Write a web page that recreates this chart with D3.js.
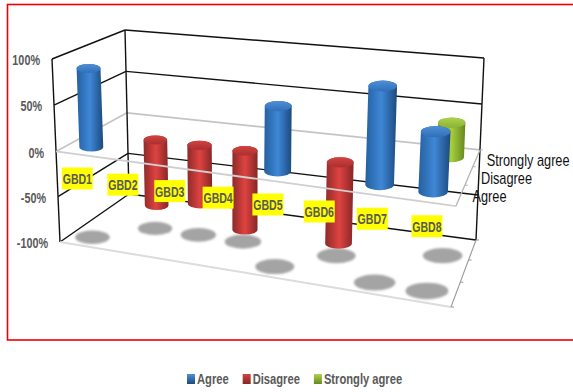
<!DOCTYPE html>
<html>
<head>
<meta charset="utf-8">
<script src="https://cdn.jsdelivr.net/npm/d3@7/dist/d3.min.js"></script>
<style>
  html, body { margin: 0; padding: 0; background: #fff; }
  svg { display: block; }
  text { font-family: "Liberation Sans", sans-serif; }
</style>
</head>
<body>
<svg id="chart" width="573" height="392"></svg>
<script>
// Survey responses per item
const categories = ["GBD1", "GBD2", "GBD3", "GBD4", "GBD5", "GBD6", "GBD7", "GBD8"];
const seriesNames = ["Agree", "Disagree", "Strongly agree"];
const agree = [86, null, null, null, 68, null, 100, 60];
const disagree = [null, -75, -66, -88, null, -88, null, null];
const stronglyAgree = [null, null, null, null, null, null, null, 37];
const valueTicks = [100, 50, 0, -50, -100];

const svg = d3.select("#chart");
const defs = svg.append("defs");

// Squeeze a text selection horizontally to get a condensed face
function condense(selection, factor) {
  selection.each(function () {
    const len = this.getComputedTextLength();
    d3.select(this)
      .attr("textLength", len * factor)
      .attr("lengthAdjust", "spacingAndGlyphs");
  });
  return selection;
}

// Vertical edges of the 3D box, as [x, y] at +100% and at -100%
const edges = {
  frontLeft:  [[52, 59],  [60, 242]],
  backLeft:   [[125, 30], [129, 194]],
  frontRight: [[461, 103], [451, 307]],
  backRight:  [[484, 58], [476, 240]]
};

const lerp = (a, b, t) => a + (b - a) * t;
const valueT = d3.scaleLinear().domain([100, 0, -100]).range([0, 0.505, 1]);
const onEdge = (edge, w) => {
  const t = valueT(w);
  return [lerp(edge[0][0], edge[1][0], t), lerp(edge[0][1], edge[1][1], t)];
};

// Foreshortening along the category axis
const perspective = 0.885;
const warp = u => perspective * u / (1 - (1 - perspective) * u);

// u: along categories, v: front to back, w: percent value
function project(u, v, w) {
  const s = warp(u);
  const fl = onEdge(edges.frontLeft, w), fr = onEdge(edges.frontRight, w);
  const bl = onEdge(edges.backLeft, w), br = onEdge(edges.backRight, w);
  const fx = lerp(fl[0], fr[0], s), fy = lerp(fl[1], fr[1], s);
  const bx = lerp(bl[0], br[0], s), by = lerp(bl[1], br[1], s);
  return [lerp(fx, bx, v), lerp(fy, by, v)];
}

const band = d3.scaleBand().domain(categories).range([0, 1]);
const centre = c => band(c) + band.bandwidth() / 2;
const depth = d3.scaleOrdinal().domain(seriesNames).range([0.19, 0.5, 0.82]);
const color = d3.scaleOrdinal().domain(seriesNames).range(["blue", "red", "green"]);

const palette = {
  blue:  { edgeL: "#24609f", mid: "#3f87d6", edgeR: "#1c4a7e", cap: ["#4f8fd6", "#2f6fb8"] },
  red:   { edgeL: "#8e2a2a", mid: "#de4340", edgeR: "#862626", cap: ["#d24341", "#a92f2f"] },
  green: { edgeL: "#6f9526", mid: "#a6d03f", edgeR: "#66871f", cap: ["#aed24c", "#8cb235"] }
};

Object.entries(palette).forEach(([name, p]) => {
  const body = defs.append("linearGradient").attr("id", "body-" + name);
  [[0, p.edgeL], [0.5, p.mid], [1, p.edgeR]].forEach(([o, c]) =>
    body.append("stop").attr("offset", o).attr("stop-color", c));
  const cap = defs.append("linearGradient").attr("id", "cap-" + name)
    .attr("x1", 0).attr("y1", 0).attr("x2", 0).attr("y2", 1);
  cap.append("stop").attr("offset", 0).attr("stop-color", p.cap[0]);
  cap.append("stop").attr("offset", 1).attr("stop-color", p.cap[1]);
  const swatch = defs.append("linearGradient").attr("id", "key-" + name)
    .attr("x1", 0).attr("y1", 0).attr("x2", 0).attr("y2", 1);
  swatch.append("stop").attr("offset", 0).attr("stop-color", p.cap[0]);
  swatch.append("stop").attr("offset", 1).attr("stop-color", p.edgeR);
});
defs.append("filter").attr("id", "soft")
  .attr("x", "-30%").attr("y", "-50%").attr("width", "160%").attr("height", "200%")
  .append("feGaussianBlur").attr("stdDeviation", 1.3);

// Outer border, running off the right of the page
svg.append("rect")
  .attr("x", 7.5).attr("y", 4.5).attr("width", 580).attr("height", 335.5)
  .attr("fill", "none").attr("stroke", "#f00000").attr("stroke-width", 1.6);

const seg = (g, a, b, stroke, width) => g.append("line")
  .attr("x1", a[0]).attr("y1", a[1]).attr("x2", b[0]).attr("y2", b[1])
  .attr("stroke", stroke).attr("stroke-width", width);

// Walls: gridlines on the left and back faces
const walls = svg.append("g");
valueTicks.forEach(w => {
  const stroke = w === 0 ? "#c4c4c4" : "#111";
  const width = w === 0 ? 1.7 : 1.4;
  seg(walls, onEdge(edges.frontLeft, w), onEdge(edges.backLeft, w), stroke, width);
  seg(walls, onEdge(edges.backLeft, w), onEdge(edges.backRight, w), stroke, width);
});
seg(walls, onEdge(edges.frontLeft, 100), onEdge(edges.frontLeft, -100), "#111", 1.4);
seg(walls, onEdge(edges.backLeft, 100), onEdge(edges.backLeft, -100), "#111", 1.4);
seg(walls, onEdge(edges.backRight, 100), onEdge(edges.backRight, -100), "#111", 1.4);

// Floor edges and depth ticks
const floor = svg.append("g");
seg(floor, onEdge(edges.frontLeft, -100), onEdge(edges.frontRight, -100), "#dcdcdc", 2);
seg(floor, onEdge(edges.frontRight, -100), onEdge(edges.backRight, -100), "#9a9a9a", 1.1);
[0, 0.37, 0.7, 1].forEach(t => {
  const p = project(1, t, -100);
  seg(floor, p, [p[0] + 3, p[1]], "#9a9a9a", 1);
});

// Flatten the three series into one list of drawn bars
const seriesValues = [agree, disagree, stronglyAgree];
const bars = seriesNames.flatMap((name, si) =>
  categories.map((c, ci) => ({ series: name, category: c, value: seriesValues[si][ci] }))
).filter(d => d.value !== null);

const halfWidth = 0.034;
const radiusX = d => {
  const u = centre(d.category), v = depth(d.series);
  return (project(u + halfWidth, v, 0)[0] - project(u - halfWidth, v, 0)[0]) / 2;
};

// Soft shadows cast on the floor
svg.append("g").selectAll("ellipse").data(bars).join("ellipse")
  .attr("cx", d => project(centre(d.category), depth(d.series), -100)[0] - (depth(d.series) > 0.6 ? 4 : 2))
  .attr("cy", d => project(centre(d.category), depth(d.series), -100)[1] + (depth(d.series) > 0.6 ? 7 : 1))
  .attr("rx", d => radiusX(d) * 1.45)
  .attr("ry", d => radiusX(d) * 0.56)
  .attr("fill", "#a4a4a4")
  .attr("filter", "url(#soft)");

// Cylinders, painted from the back of the box forward
const ordered = bars.slice().sort((a, b) => depth(b.series) - depth(a.series) || centre(a.category) - centre(b.category));
const barG = svg.append("g").selectAll("g").data(ordered).join("g");

barG.append("path")
  .attr("d", d => {
    const u = centre(d.category), v = depth(d.series);
    const hi = project(u, v, Math.max(d.value, 0));
    const lo = project(u, v, Math.min(d.value, 0));
    const rx = radiusX(d), ry = rx * 0.38;
    return `M${hi[0] - rx},${hi[1]} L${lo[0] - rx},${lo[1]}` +
      ` A${rx},${ry} 0 0 0 ${lo[0] + rx},${lo[1]}` +
      ` L${hi[0] + rx},${hi[1]}` +
      ` A${rx},${ry} 0 0 0 ${hi[0] - rx},${hi[1]} Z`;
  })
  .attr("fill", d => `url(#body-${color(d.series)})`);

barG.append("ellipse")
  .attr("cx", d => project(centre(d.category), depth(d.series), Math.max(d.value, 0))[0])
  .attr("cy", d => project(centre(d.category), depth(d.series), Math.max(d.value, 0))[1])
  .attr("rx", radiusX)
  .attr("ry", d => radiusX(d) * 0.38)
  .attr("fill", d => `url(#cap-${color(d.series)})`);

// Edges of the zero plane sit in front of the cylinders
const plane = svg.append("g");
seg(plane, onEdge(edges.frontLeft, 0), onEdge(edges.frontRight, 0), "#cfcfcf", 1.8);
seg(plane, onEdge(edges.frontRight, 0), onEdge(edges.backRight, 0), "#b4b4b4", 1.3);
[0.37, 0.7, 1].forEach(t => {
  const p = project(1, t, 0);
  seg(plane, p, [p[0] + 3, p[1]], "#b4b4b4", 1);
});

// Percent labels along the front-left edge
svg.append("g").selectAll("text").data(valueTicks).join("text")
  .attr("x", d => onEdge(edges.frontLeft, d)[0] - 12)
  .attr("y", d => onEdge(edges.frontLeft, d)[1] + 1)
  .attr("dy", "0.35em")
  .attr("text-anchor", "end")
  .attr("font-size", 15)
  .attr("font-weight", 700)
  .attr("fill", "#595959")
  .text(d => d + "%")
  .call(condense, 0.72);

// Depth labels beside the right edge of the zero plane
const labelShift = { "Agree": 12, "Disagree": 13, "Strongly agree": 11 };
svg.append("g").selectAll("text").data(seriesNames).join("text")
  .attr("x", d => project(1, depth(d), 0)[0] + labelShift[d])
  .attr("y", d => project(1, depth(d), 0)[1] + (d === "Agree" ? 1 : 0))
  .attr("dy", "0.35em")
  .attr("font-size", 17)
  .attr("fill", "#111")
  .text(d => d)
  .call(condense, 0.75);

// Category labels on yellow plates
const labelW = 31, labelH = 22, labelDrop = 24;
const plates = svg.append("g").selectAll("g").data(categories).join("g")
  .attr("transform", d => {
    const p = project(centre(d), 0, 0);
    return `translate(${p[0] - 1},${p[1] + labelDrop})`;
  });
plates.append("rect")
  .attr("x", -labelW / 2).attr("y", -labelH / 2)
  .attr("width", labelW).attr("height", labelH)
  .attr("fill", "#ffff00");
plates.append("text")
  .attr("text-anchor", "middle").attr("dy", "0.35em")
  .attr("font-size", 15.5).attr("font-weight", 700)
  .attr("fill", "#595959")
  .text(d => d)
  .call(condense, 0.68);

// Legend, laid out left to right from measured text widths
const legend = svg.append("g").attr("transform", "translate(187,379)");
const legendSqueeze = 0.745;
let cursor = 0;
seriesNames.forEach(name => {
  legend.append("rect")
    .attr("x", cursor).attr("y", -5)
    .attr("width", 8).attr("height", 10)
    .attr("fill", `url(#key-${color(name)})`);
  const t = legend.append("text")
    .attr("x", cursor + 10).attr("dy", "0.35em")
    .attr("font-size", 15).attr("font-weight", 700)
    .attr("fill", "#595959")
    .text(name);
  const width = t.node().getComputedTextLength() * legendSqueeze;
  t.call(condense, legendSqueeze);
  cursor += 10 + width + 14;
});
</script>
</body>
</html>
